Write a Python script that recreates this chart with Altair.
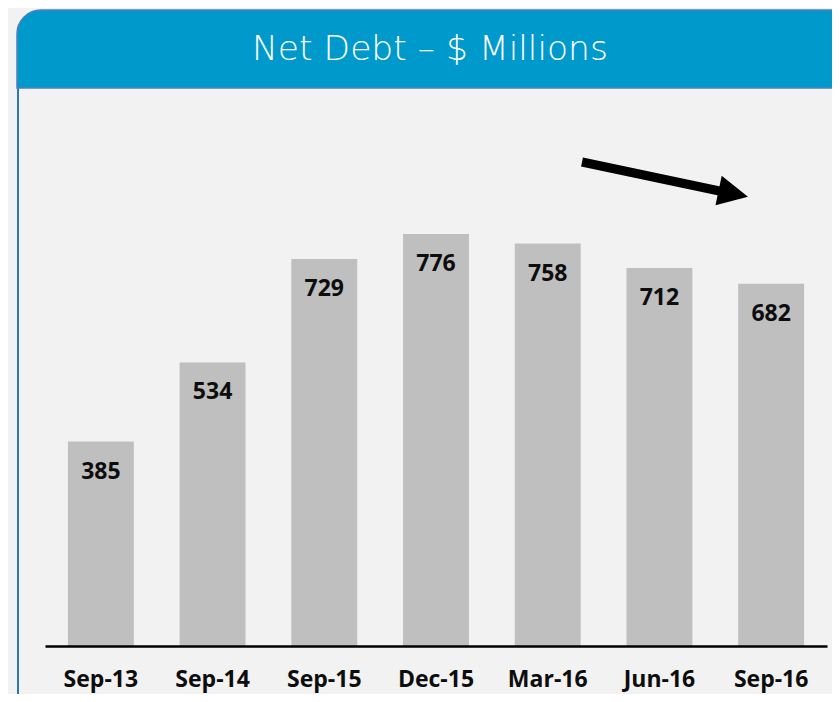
import altair as alt
import pandas as pd

# ---- data ----
periods = ["Sep-13", "Sep-14", "Sep-15", "Dec-15", "Mar-16", "Jun-16", "Sep-16"]
net_debt = [385, 534, 729, 776, 758, 712, 682]

title_text = ["Net Debt \u2013 $ Millions"]

# trend arrow, in chart units (x: category index 0..7, y: $ millions)
arrow_x = [4.807, 6.09]
arrow_y = [911.5, 854.5]
head_x = [6.161]
head_y = [852.0]

df = pd.DataFrame({"period": periods, "value": net_debt})
arrow_df = pd.DataFrame({"ax": arrow_x, "ay": arrow_y, "order": [0, 1]})
head_df = pd.DataFrame({"hx": head_x, "hy": head_y})
title_df = pd.DataFrame({"t": title_text})
deco_df = pd.DataFrame({"k": [0]})

W, H = 782, 531
FONT = "Open Sans"

xscale = alt.Scale(paddingInner=0.41, paddingOuter=0.205)
yscale = alt.Scale(domain=[0, 1000])

# card body
body = alt.Chart(deco_df).mark_rect(
    fill="#f2f2f2", stroke="#2a78b8", strokeWidth=2
).encode(x=alt.value(-27), x2=alt.value(830), y=alt.value(-28), y2=alt.value(620))

# header band
header = alt.Chart(deco_df).mark_rect(
    fill="#0099cc", stroke="#4f7fbf", strokeWidth=1.5,
    cornerRadiusTopLeft=24, cornerRadiusTopRight=24,
).encode(x=alt.value(-28), x2=alt.value(812), y=alt.value(-105), y2=alt.value(-27))

title = alt.Chart(title_df).mark_text(
    font="DejaVu Sans", fontSize=34.5, fontWeight=200, color="white",
    align="center", baseline="alphabetic",
).encode(x=alt.value(385), y=alt.value(-55), text="t:N")

bars = alt.Chart(df).mark_bar(color="#bfbfbf").encode(
    x=alt.X("period:N", sort=periods, scale=xscale,
            axis=alt.Axis(title=None, labelAngle=0, labelFont=FONT, labelFontSize=23,
                          labelFontWeight="bold", labelColor="#0d0d0d",
                          labelBaseline="alphabetic", labelPadding=40,
                          ticks=False, grid=False, domainColor="#000000",
                          domainWidth=2.6, zindex=1)),
    y=alt.Y("value:Q", scale=yscale, axis=None),
)

labels = alt.Chart(df).mark_text(
    font=FONT, fontSize=23, fontWeight="bold", color="#0d0d0d",
    baseline="alphabetic", dy=37,
).encode(
    x=alt.X("period:N", sort=periods, scale=xscale),
    y=alt.Y("value:Q", scale=yscale),
    text="value:Q",
)

arrow_line = alt.Chart(arrow_df).mark_line(
    color="black", strokeWidth=9, strokeCap="butt"
).encode(
    x=alt.X("ax:Q", scale=alt.Scale(domain=[0, 7], nice=False, zero=False), axis=None),
    y=alt.Y("ay:Q", scale=yscale),
    order="order:Q",
)

arrow_head = alt.Chart(head_df).mark_point(
    shape="M -1,-1 L 1,0 L -1,1 Z", filled=True, color="black", opacity=1,
    size=900, angle=12, strokeWidth=0,
).encode(
    x=alt.X("hx:Q", scale=alt.Scale(domain=[0, 7], nice=False, zero=False), axis=None),
    y=alt.Y("hy:Q", scale=yscale),
)

chart = alt.layer(body, header, title, bars, labels, arrow_line, arrow_head).resolve_scale(
    x="independent"
).properties(
    width=W, height=H,
    background="#f2f2f2",
    padding={"left": 37, "top": 107, "right": 5, "bottom": 48},
    autosize=alt.AutoSizeParams(type="none"),
).configure_view(stroke=None)

chart.save("out.html", embed_options={"renderer": "svg", "actions": False})
